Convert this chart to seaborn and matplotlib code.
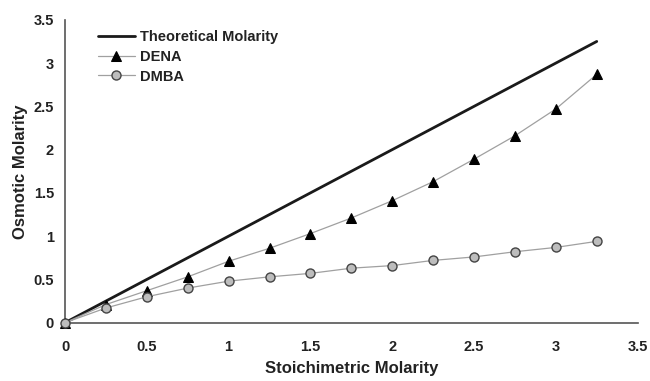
import matplotlib
matplotlib.use("Agg")
import matplotlib.pyplot as plt
import seaborn as sns
import pandas as pd

stoich = [0, 0.25, 0.5, 0.75, 1.0, 1.25, 1.5, 1.75, 2.0, 2.25, 2.5, 2.75, 3.0, 3.25]
theoretical_x = [0, 3.25]
theoretical_y = [0, 3.25]
dena = [0, 0.21, 0.37, 0.53, 0.71, 0.86, 1.03, 1.21, 1.41, 1.63, 1.89, 2.16, 2.47, 2.87]
dmba = [0, 0.17, 0.30, 0.40, 0.48, 0.53, 0.57, 0.63, 0.66, 0.72, 0.76, 0.82, 0.87, 0.94]
xticks = [0, 0.5, 1, 1.5, 2, 2.5, 3, 3.5]
yticks = [0, 0.5, 1, 1.5, 2, 2.5, 3, 3.5]

sns.set_style("white")
plt.rcParams['font.family'] = ['Liberation Sans', 'DejaVu Sans']
plt.rcParams['font.weight'] = 'bold'

fig = plt.figure(figsize=(6.5, 3.81), dpi=100)
ax = fig.add_axes([0.1, 0.153, 0.881, 0.795])

df_t = pd.DataFrame({"x": theoretical_x, "y": theoretical_y})
df_a = pd.DataFrame({"x": stoich, "y": dena})
df_b = pd.DataFrame({"x": stoich, "y": dmba})

sns.lineplot(data=df_t, x="x", y="y", ax=ax, color="#1a1a1a", lw=2.0,
             label="Theoretical Molarity", zorder=3)
sns.lineplot(data=df_a, x="x", y="y", ax=ax, color="#a0a0a0", lw=0.9,
             marker="^", markersize=7, markerfacecolor="black",
             markeredgecolor="black", label="DENA", zorder=4)
sns.lineplot(data=df_b, x="x", y="y", ax=ax, color="#a0a0a0", lw=0.9,
             marker="o", markersize=6.5, markerfacecolor="#bdbdbd",
             markeredgecolor="#444444", markeredgewidth=1.0,
             label="DMBA", zorder=4)

for line in ax.get_lines():
    line.set_clip_on(False)

ax.set_xlim(0, 3.5)
ax.set_ylim(0, 3.5)
ax.set_xticks(xticks)
ax.set_yticks(yticks)
ax.set_xticklabels([f"{t:g}" for t in xticks], fontsize=10.5, fontweight='bold', color="#222222")
ax.set_yticklabels([f"{t:g}" for t in yticks], fontsize=10.5, fontweight='bold', color="#222222")
ax.tick_params(axis='both', direction='inout', length=5, width=1, color="#555555", pad=10)
ax.tick_params(axis='y', direction='in', length=4, pad=8)

for s in ["top", "right"]:
    ax.spines[s].set_visible(False)
for s in ["left", "bottom"]:
    ax.spines[s].set_color("#555555")
    ax.spines[s].set_linewidth(1.2)

ax.set_xlabel("Stoichimetric Molarity", fontsize=12, fontweight='bold', color="#222222", labelpad=5)
ax.set_ylabel("Osmotic Molarity", fontsize=12, fontweight='bold', color="#222222", labelpad=4)

leg = ax.legend(loc="upper left", bbox_to_anchor=(0.035, 1.01), frameon=False,
                prop={'weight': 'bold', 'size': 10.5}, handlelength=2.5,
                handletextpad=0.4, labelspacing=0.4)
for t in leg.get_texts():
    t.set_color("#222222")

fig.savefig("out.png", dpi=100)
